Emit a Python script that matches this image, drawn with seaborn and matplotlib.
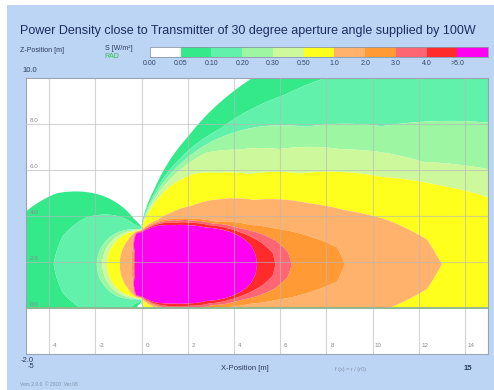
import numpy as np
import matplotlib
matplotlib.use("Agg")
import matplotlib.pyplot as plt
from matplotlib.colors import ListedColormap
from matplotlib.patches import Rectangle
import seaborn as sns

sns.set_style("white")
plt.rcParams["font.family"] = ["Liberation Sans", "DejaVu Sans"]

# ---------------- data ----------------
TITLE = "Power Density close to Transmitter of 30 degree aperture angle supplied by 100W"
LEVELS = [0.05, 0.1, 0.2, 0.3, 0.5, 1.0, 2.0, 3.0, 4.0, 5.0]
LEGEND_LABELS = ["0.00", "0.05", "0.10", "0.20", "0.30", "0.50", "1.0", "2.0", "3.0", "4.0", ">5.0"]
BAND_COLORS = ["#ffffff", "#33e98a", "#62f1aa", "#9cf6a2", "#cdf99c", "#ffff1e",
               "#ffb26c", "#ff9a35", "#ff6674", "#ff2a2a", "#ff00f0"]
SOURCE_X, SOURCE_Z = 0.0, 1.9
# directions from the transmitter (degrees from +x, mirrored below the axis)
ANGLES = [0, 5, 10, 15, 20, 30, 40, 50, 60, 70, 80, 90, 100, 120, 140, 160, 180]
# distance (m) at which each power-density level is reached in each direction
REACH_0_05 = [52, 49, 45, 40, 35, 25, 18, 13, 9.2, 5.92, 3.37, 1.60, 2.03, 3.46, 4.80, 5.72, 6.05]
REACH_0_10 = [38, 36, 33, 29, 25, 18, 13.5, 9.6, 6.8, 4.9, 3.10, 1.56, 1.76, 2.47, 3.15, 3.62, 3.80]
REACH_0_20 = [27, 26, 24, 21, 17.5, 12, 9.3, 7.8, 6.2, 4.5, 2.90, 1.54, 1.53, 1.675, 1.81, 1.90, 1.93]
REACH_0_30 = [22, 21, 19, 15.8, 13.0, 10, 7.8, 6.5, 5.6, 4.1, 2.70, 1.52, 1.50, 1.565, 1.636, 1.68, 1.70]
REACH_0_50 = [18, 17.3, 15.8, 13.3, 11.1, 7.9, 6.1, 5.2, 4.55, 3.6, 2.50, 1.50, 1.47, 1.48, 1.49, 1.50, 1.50]
REACH_1_0 = [13.0, 12.4, 10.9, 9.1, 7.74, 5.6, 4.4, 3.3, 2.6, 2.05, 1.75, 1.48, 1.44, 1.20, 1.05, 0.97, 0.93]
REACH_2_0 = [8.8, 8.5, 7.25, 6.0, 5.0, 3.7, 3.05, 2.6, 2.25, 1.96, 1.70, 1.46, 1.42, 0.75, 0.52, 0.43, 0.40]
REACH_3_0 = [6.5, 6.35, 5.9, 5.25, 4.55, 3.55, 2.95, 2.5, 2.18, 1.90, 1.64, 1.44, 1.40, 0.66, 0.45, 0.37, 0.35]
REACH_4_0 = [5.8, 5.7, 5.3, 4.8, 4.3, 3.4, 2.8, 2.37, 2.08, 1.83, 1.60, 1.42, 1.38, 0.60, 0.40, 0.33, 0.31]
REACH_5_0 = [5.0, 4.95, 4.8, 4.5, 4.1, 3.2, 2.64, 2.22, 1.96, 1.76, 1.55, 1.40, 1.36, 0.56, 0.37, 0.30, 0.28]
X_TICKS = [-4, -2, 0, 2, 4, 6, 8, 10, 12, 14]
Z_TICKS = [0, 2, 4, 6, 8]
Z_TICK_LABELS = ["0.0", "2.0", "4.0", "6.0", "8.0"]
X_RANGE = (-5, 15)
Z_RANGE = (-2.0, 10.0)

# ---------------- field on a grid ----------------
reach = np.array([REACH_0_05, REACH_0_10, REACH_0_20, REACH_0_30, REACH_0_50,
                  REACH_1_0, REACH_2_0, REACH_3_0, REACH_4_0, REACH_5_0], dtype=float)
xs = np.linspace(X_RANGE[0], X_RANGE[1], 801)
zs = np.linspace(0.0, Z_RANGE[1], 401)
XX, ZZ = np.meshgrid(xs, zs)
dx, dz = XX - SOURCE_X, ZZ - SOURCE_Z
r = np.maximum(np.hypot(dx, dz), 1e-3)
th = np.degrees(np.arctan2(np.abs(dz), dx))
R = np.array([np.interp(th, ANGLES, row) for row in reach])
logL = np.log(LEVELS)
logr = np.log(r)
logR = np.log(R)
logS = np.full(r.shape, np.nan)
out = r >= R[0]
logS[out] = logL[0] + 2 * (logR[0][out] - logr[out])
inn = r < R[-1]
logS[inn] = logL[-1] + 2 * (logR[-1][inn] - logr[inn])
for k in range(len(LEVELS) - 1):
    m = (r < R[k]) & (r >= R[k + 1])
    t = (logr[m] - logR[k][m]) / (logR[k + 1][m] - logR[k][m])
    logS[m] = logL[k] + t * (logL[k + 1] - logL[k])
S = np.exp(logS)

# ---------------- figure ----------------
W, H = 494, 390
fig = plt.figure(figsize=(W / 100, H / 100), dpi=100)
fig.patch.set_facecolor("white")
fig.patches.append(Rectangle((7 / W, 0), 1 - 7 / W, 1 - 5 / H, transform=fig.transFigure,
                             facecolor="#bcd5f5", edgecolor="none", zorder=-10))

def fx(px):
    return px / W

def fy(py):
    return 1 - py / H

ax = fig.add_axes([fx(26), fy(354), (488 - 26) / W, (354 - 78) / H])
ax.set_facecolor("white")
ax.contourf(XX, ZZ, S, levels=[0] + LEVELS + [1e9], colors=BAND_COLORS, antialiased=True)
ax.axhline(0, color="#8fb58f", lw=1.3, zorder=3)
ax.set_xlim(*X_RANGE)
ax.set_ylim(*Z_RANGE)
ax.set_xticks(X_TICKS)
ax.set_yticks(Z_TICKS)
ax.tick_params(length=0, labelbottom=False, labelleft=False)
ax.grid(True, color="#b8b8b8", lw=0.8, alpha=0.6)
ax.set_axisbelow(False)
for s in ax.spines.values():
    s.set_color("#9aa4b0")
    s.set_linewidth(0.8)
for xv in X_TICKS:
    ax.text(xv + 0.25, Z_RANGE[0] + 0.35, str(xv), fontsize=4.5, color="#8a8a8a",
            ha="center", va="center")
for zv, lab in zip(Z_TICKS, Z_TICK_LABELS):
    ax.text(X_RANGE[0] + 0.15, zv + 0.15, lab, fontsize=4.5, color="#8a8a8a",
            ha="left", va="center")

# legend bar
lax = fig.add_axes([fx(150), fy(57), (488 - 150) / W, 10 / H])
sns.heatmap(np.arange(len(BAND_COLORS)).reshape(1, -1), ax=lax,
            cmap=ListedColormap(BAND_COLORS), cbar=False, linewidths=0)
lax.set_xticks(np.arange(len(LEGEND_LABELS)))
lax.set_xticklabels(LEGEND_LABELS, fontsize=5, color="#334466", rotation=0)
lax.tick_params(length=0, pad=2)
lax.set_yticks([])
for s in lax.spines.values():
    s.set_visible(True)
    s.set_color("#8898aa")
    s.set_linewidth(0.6)

# texts
fig.text(fx(20), fy(31), TITLE, fontsize=9.0, color="#1c2c5c", ha="left", va="center")
fig.text(fx(20), fy(50), "Z-Position [m]", fontsize=5, color="#2a3a5a", ha="left", va="center")
fig.text(fx(105), fy(48), "S [W/m²]", fontsize=5, color="#2a3a5a", ha="left", va="center")
fig.text(fx(104), fy(57), "RAD", fontsize=5, color="#2fbf4a", ha="left", va="center")
fig.text(fx(22), fy(71), "10.0", fontsize=5.5, color="#2a3a5a", ha="left", va="center")
fig.text(fx(21), fy(360), "-2.0", fontsize=5.5, color="#2a3a5a", ha="left", va="center")
fig.text(fx(28), fy(366), "-5", fontsize=5.5, color="#2a3a5a", ha="left", va="center")
fig.text(fx(245), fy(369), "X-Position [m]", fontsize=5.5, color="#2a3a5a", ha="center", va="center")
fig.text(fx(350), fy(369), "f (x) = r / (r0)", fontsize=4, color="#8090a8", ha="center", va="center")
fig.text(fx(468), fy(369), "15", fontsize=5.5, color="#2a3a5a", ha="center", va="center", weight="bold")
fig.text(fx(20), fy(384), "Vers 2.0.0  © 2010  Ver.08", fontsize=3.5, color="#8090a8", ha="left", va="center")

fig.savefig("out.png", dpi=100)
